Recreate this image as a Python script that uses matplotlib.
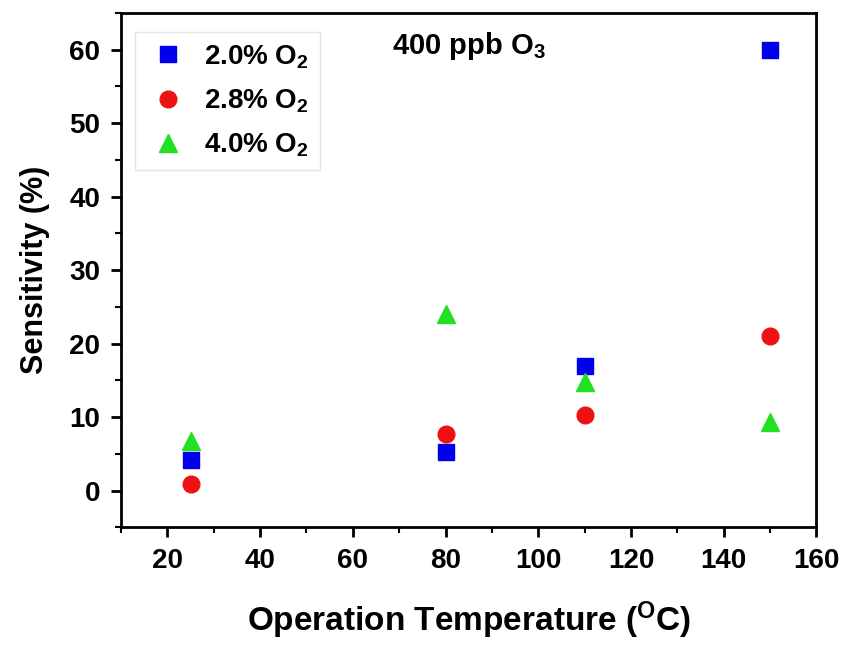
import matplotlib as mpl
mpl.use('Agg')
import matplotlib.pyplot as plt
from matplotlib.ticker import MultipleLocator

plt.rcParams['font.family'] = ['Liberation Sans', 'DejaVu Sans']
plt.rcParams['font.weight'] = 'bold'
plt.rcParams['mathtext.fontset'] = 'custom'
plt.rcParams['mathtext.rm'] = 'Liberation Sans:bold'
plt.rcParams['mathtext.default'] = 'rm'

# data
temp = [25, 80, 110, 150]
o2_20 = [4.2, 5.3, 17.0, 60.0]
o2_28 = [0.9, 7.7, 10.3, 21.0]
o2_40 = [6.7, 24.0, 14.8, 9.3]
labels = ['2.0% O$_2$', '2.8% O$_2$', '4.0% O$_2$']

fig = plt.figure(figsize=(8.46, 6.47), dpi=100)
ax = fig.add_axes([0.143, 0.185, 0.822, 0.795])

ax.plot(temp, o2_20, 's', color='#0000ee', ms=11, label=labels[0])
ax.plot(temp, o2_28, 'o', color='#ee1111', ms=12, label=labels[1])
ax.plot(temp, o2_40, '^', color='#22e022', ms=13, label=labels[2])

ax.set_xlim(10, 160)
ax.set_ylim(-5, 65)
ax.xaxis.set_major_locator(MultipleLocator(20))
ax.xaxis.set_minor_locator(MultipleLocator(10))
ax.yaxis.set_major_locator(MultipleLocator(10))
ax.yaxis.set_minor_locator(MultipleLocator(5))
ax.tick_params(which='major', direction='out', length=7, width=2, labelsize=20, pad=8)
ax.tick_params(which='minor', direction='out', length=4, width=1.5)
for s in ax.spines.values():
    s.set_linewidth(2)

ax.set_xlabel('Operation Temperature ($^{\\mathrm{O}}$C)', fontsize=24, fontweight='bold', labelpad=18)
ax.set_ylabel('Sensitivity (%)', fontsize=22, fontweight='bold', labelpad=14)

leg = ax.legend(loc='upper left', fontsize=20, frameon=True, fancybox=False,
                handletextpad=0.5, borderpad=0.4, labelspacing=0.6,
                handlelength=1.6, bbox_to_anchor=(0.0, 0.99))
leg.get_frame().set_edgecolor('#dddddd')
leg.get_frame().set_linewidth(1)

ax.text(0.39, 0.935, '400 ppb O$_3$', transform=ax.transAxes, fontsize=21,
        fontweight='bold', ha='left', va='center')

fig.savefig('out.png', dpi=100)
